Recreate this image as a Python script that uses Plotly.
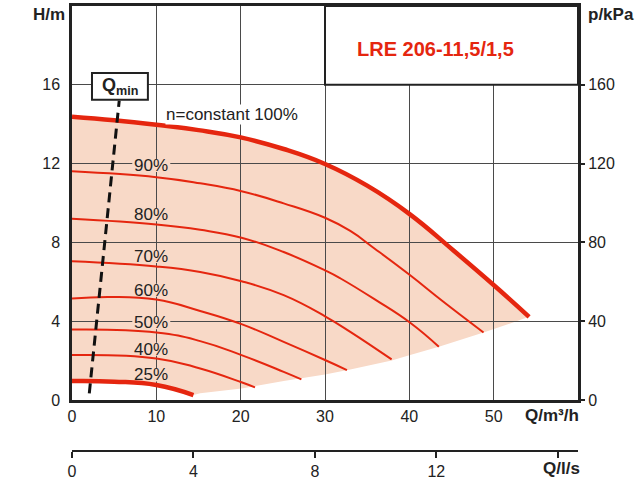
import plotly.graph_objects as go

# ---------------- data ----------------
# flow Q in m3/h, head H in m
q100 = [0, 5, 10, 15, 20, 25.1, 30, 35, 40, 45.2, 50.2, 54.2]
h100 = [14.38, 14.2, 13.97, 13.7, 13.33, 12.74, 11.98, 10.88, 9.45, 7.6, 5.76, 4.22]

q90 = [0, 10, 15.2, 20.1, 25.1, 30, 33, 35.9, 40.1, 44, 48.8]
h90 = [11.61, 11.31, 11.0, 10.6, 9.98, 9.25, 8.58, 7.68, 6.33, 5.0, 3.43]

q80 = [0, 10, 15.2, 20.1, 25.1, 30, 31.8, 36, 40.1, 43.5]
h80 = [9.2, 8.91, 8.64, 8.24, 7.51, 6.58, 6.18, 5.08, 3.92, 2.7]

q70 = [0, 10, 15.2, 20.1, 25.1, 30, 33, 37.9]
h70 = [7.04, 6.78, 6.5, 6.03, 5.32, 4.25, 3.46, 2.06]

q60 = [0, 4.5, 10, 15.2, 20.1, 25.1, 30, 32.6]
h60 = [5.15, 5.23, 5.1, 4.52, 3.85, 2.95, 2.03, 1.52]

q50 = [0, 10, 15.2, 20.1, 25.1, 27.2]
h50 = [3.58, 3.43, 2.99, 2.28, 1.43, 1.05]

q40 = [0, 10, 15.2, 20.1, 21.7]
h40 = [2.28, 2.11, 1.6, 0.9, 0.64]

q25 = [0, 5, 10, 14.4]
h25 = [0.96, 0.93, 0.76, 0.25]

# lower edge of the operating field
q_low = [14.4, 15.2, 20.1, 25.1, 30, 33, 37.9, 40.1, 43.5, 48.8, 50.2, 54.2]
h_low = [0.25, 0.34, 0.59, 0.96, 1.3, 1.55, 2.0, 2.28, 2.7, 3.43, 3.63, 4.22]

# Qmin line
qmin_q = [2.05, 5.6]
qmin_h = [0.34, 15.2]

speed_labels = ["90%", "80%", "70%", "60%", "50%", "40%", "25%"]
speed_label_h = [11.9, 9.4, 7.29, 5.57, 3.92, 2.57, 1.27]
speed_label_q = 9.4

x_ticks = [0, 10, 20, 30, 40, 50]
h_ticks = [0, 4, 8, 12, 16]
p_ticks = [0, 40, 80, 120, 160]
ls_ticks = [0, 4, 8, 12, 16]
ls_ticktext = ["0", "4", "8", "12", " "]

# ---------------- styling ----------------
RED = "#e5260f"
PINK = "#f8d9c7"
GRID = "#4a4a4a"
FRAME = "#222222"
TXT = "#222222"
FONT = "Liberation Sans, Arial, Helvetica, sans-serif"

W, H = 637, 482
ML, MR, MT, MB = 72, 59, 6, 31
PLOT_W = W - ML - MR
PLOT_H = H - MT - MB
Y_AXIS_PX = 400  # pixel row of the Q/m3/h axis
y_dom0 = (H - MB - Y_AXIS_PX) / PLOT_H
PX_PER_Q = PLOT_W / 60.0
PX_PER_H = (Y_AXIS_PX - MT) / 20.0


def px(x):
    return (x - ML) / PLOT_W


def py(y):
    return (H - MB - y) / PLOT_H


fig = go.Figure()

# operating field (pink) as a shape below the grid
pts = list(zip(q100, h100)) + list(zip(q_low[::-1], h_low[::-1]))[1:] + list(zip(q25[::-1], h25[::-1]))[1:]
path = "M " + " L ".join(f"{q},{h}" for q, h in pts) + " Z"

thin = [(q90, h90), (q80, h80), (q70, h70), (q60, h60), (q50, h50), (q40, h40)]
for qq, hh in thin:
    fig.add_trace(go.Scatter(x=qq, y=hh, mode="lines",
                             line=dict(color=RED, width=2, shape="spline", smoothing=1.3),
                             hoverinfo="skip"))
for qq, hh in [(q100, h100), (q25, h25)]:
    fig.add_trace(go.Scatter(x=qq, y=hh, mode="lines",
                             line=dict(color=RED, width=4.5, shape="spline", smoothing=1.3),
                             hoverinfo="skip"))

fig.add_trace(go.Scatter(x=qmin_q, y=qmin_h, mode="lines",
                         line=dict(color="#111111", width=3, dash="10px,6px"), hoverinfo="skip"))

# empty trace so that the secondary axes (kPa, l/s) are drawn
fig.add_trace(go.Scatter(x=[None], y=[None], xaxis="x2", yaxis="y2", mode="lines",
                         hoverinfo="skip"))

shapes = [
    dict(type="path", path=path, xref="x", yref="y", fillcolor=PINK, line=dict(width=0), layer="below"),
    dict(type="rect", xref="x", yref="y", x0=30, x1=60, y0=16, y1=20, fillcolor="white",
         line=dict(color=FRAME, width=2), layer="above"),
    dict(type="rect", xref="x", yref="y", x0=2.37, x1=9.0, y0=15.24, y1=16.6, fillcolor="white",
         line=dict(color=FRAME, width=2), layer="above"),
]

# pink patches behind the speed labels: above the grid, below the curves
half_w = 19 / PX_PER_Q
half_h = 6.5 / PX_PER_H
for hv in speed_label_h:
    shapes.append(dict(type="rect", xref="x", yref="y",
                       x0=speed_label_q - half_w, x1=speed_label_q + half_w,
                       y0=hv - half_h, y1=hv + half_h,
                       fillcolor=PINK, line=dict(width=0), layer="between"))

annotations = []
for lab, hv in zip(speed_labels, speed_label_h):
    annotations.append(dict(x=speed_label_q, y=hv, xref="x", yref="y", text=lab, showarrow=False,
                            xanchor="center", yanchor="middle",
                            font=dict(family=FONT, size=17, color=TXT)))
annotations += [
    dict(x=19.0, y=14.5, xref="x", yref="y", text="n=constant 100%", showarrow=False,
         xanchor="center", yanchor="middle",
         font=dict(family=FONT, size=17, color=TXT), bgcolor="white", borderpad=0),
    dict(x=43.1, y=17.8, xref="x", yref="y", text="<b>LRE 206-11,5/1,5</b>", showarrow=False,
         xanchor="center", yanchor="middle",
         font=dict(family=FONT, size=20, color=RED)),
    dict(x=5.75, y=15.92, xref="x", yref="y", text="<b>Q<sub>min</sub></b>", showarrow=False,
         xanchor="center", yanchor="middle",
         font=dict(family=FONT, size=18, color=TXT)),
    dict(x=px(49), y=py(15), xref="paper", yref="paper", text="<b>H/m</b>", showarrow=False,
         xanchor="center", yanchor="middle", font=dict(family=FONT, size=17, color=TXT)),
    dict(x=px(611), y=py(15), xref="paper", yref="paper", text="<b>p/kPa</b>", showarrow=False,
         xanchor="center", yanchor="middle", font=dict(family=FONT, size=17, color=TXT)),
    dict(x=px(581), y=py(415), xref="paper", yref="paper", text="<b>Q/m³/h</b>", showarrow=False,
         xanchor="right", yanchor="middle", font=dict(family=FONT, size=17, color=TXT)),
    dict(x=px(582), y=py(469), xref="paper", yref="paper", text="<b>Q/l/s</b>", showarrow=False,
         xanchor="right", yanchor="middle", font=dict(family=FONT, size=17, color=TXT)),
]

fig.update_layout(
    width=W, height=H,
    margin=dict(l=ML, r=MR, t=MT, b=MB, autoexpand=False),
    paper_bgcolor="white", plot_bgcolor="white",
    showlegend=False,
    font=dict(family=FONT, size=16, color=TXT),
    shapes=shapes,
    annotations=annotations,
    xaxis=dict(domain=[0, 1], range=[0, 60], anchor="y", tickmode="array", tickvals=x_ticks,
               showgrid=True, gridcolor=GRID, gridwidth=1, zeroline=False,
               showline=True, mirror=True, linecolor=FRAME, linewidth=2.5, ticks="",
               tickfont=dict(size=16, color=TXT), fixedrange=True),
    yaxis=dict(domain=[y_dom0, 1], range=[0, 20], anchor="x", tickmode="array", tickvals=h_ticks,
               showgrid=True, gridcolor=GRID, gridwidth=1, zeroline=False,
               showline=True, mirror=True, linecolor=FRAME, linewidth=2.5, ticks="",
               ticklabelstandoff=6, tickfont=dict(size=16, color=TXT)),
    yaxis2=dict(domain=[y_dom0, 1], range=[0, 200], overlaying="y", side="right", anchor="x",
                tickmode="array", tickvals=p_ticks, showgrid=False, zeroline=False, showline=False,
                ticks="outside", ticklen=6, tickwidth=1.5, tickcolor=FRAME,
                tickfont=dict(size=16, color=TXT)),
    xaxis2=dict(domain=[0, 1], range=[0, 60 / 3.6], overlaying="x", anchor="free", position=0,
                side="bottom", tickmode="array", tickvals=ls_ticks, ticktext=ls_ticktext,
                showgrid=False, zeroline=False,
                showline=True, linecolor=FRAME, linewidth=2, ticks="outside", ticklen=6, tickwidth=2,
                tickcolor=FRAME, tickfont=dict(size=16, color=TXT)),
)

fig.write_html("out.html", config={"displayModeBar": False},
               post_script="document.body.style.margin='0px';")
